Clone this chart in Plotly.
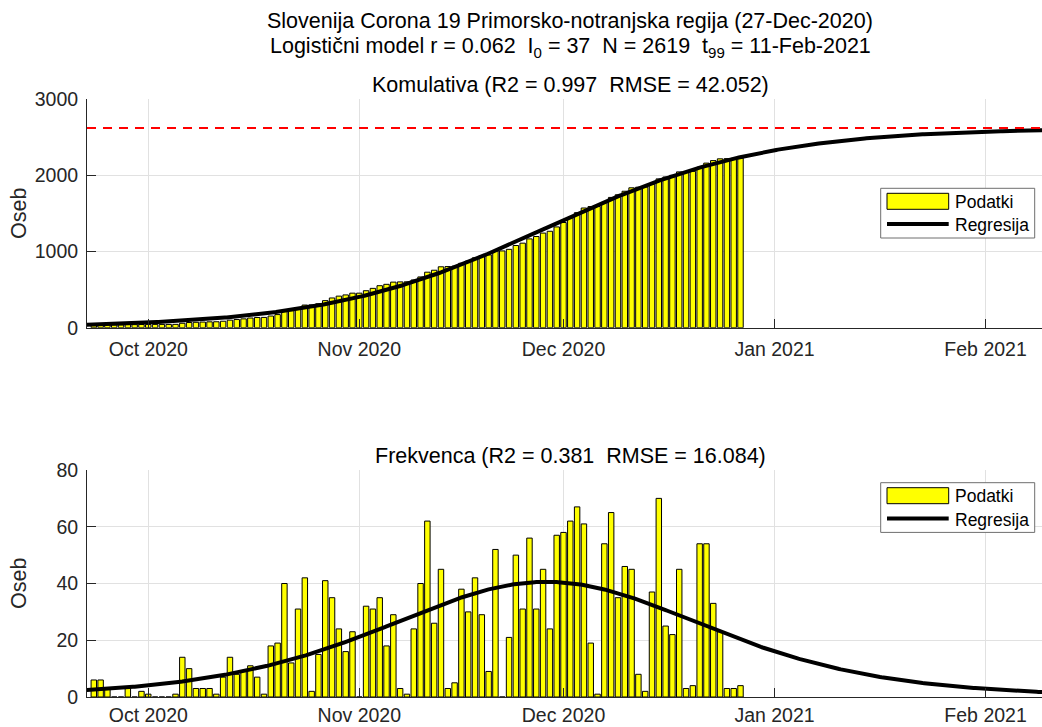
import numpy as np
import pandas as pd
import plotly.graph_objects as go

# ---------------- data ----------------
first_day = "2020-09-23"
daily_cases = [
    6, 6, 3, 0, 0, 3, 0, 2,                                   # 23-30 Sep
    1, 0, 0, 0, 1, 14, 10, 3, 3, 3, 1, 7, 14, 8, 9, 11, 7, 1,
    18, 19, 40, 12, 31, 42, 2, 15, 41, 35, 24, 16, 23,         # Oct
    0, 32, 31, 35, 18, 29, 3, 1, 24, 40, 62, 26, 45, 3, 5, 38,
    30, 42, 29, 9, 52, 0, 21, 50, 31, 56, 31, 45, 24, 57,      # Nov
    58, 62, 67, 61, 19, 1, 54, 65, 35, 46, 45, 8, 2, 37, 70,
    25, 22, 45, 3, 4, 54, 54, 33, 23, 3, 3, 4,                 # 1-27 Dec
]
cumulative_start = 22          # cases before the first plotted day

# logistic model parameters (from the chart title)
r_rate = 0.062
I0 = 37
N_total = 2619
model_t0 = "2020-09-21"
model_end = "2021-02-11"

x_range = ["2020-09-22", "2021-02-09 07:00"]
top_yticks = [0, 1000, 2000, 3000]
bot_yticks = [0, 20, 40, 60, 80]

title1 = "Slovenija Corona 19 Primorsko-notranjska regija (27-Dec-2020)"
title2 = ("Logistični model r = 0.062\u00a0 I<sub>0</sub> = 37\u00a0 N = 2619\u00a0 "
          "t<sub>99</sub> = 11-Feb-2021")
title_top = "Komulativa (R2 = 0.997\u00a0 RMSE = 42.052)"
title_bot = "Frekvenca (R2 = 0.381\u00a0 RMSE = 16.084)"
legend_labels = ["Podatki", "Regresija"]
ylabel = "Oseb"

# ---------------- derived ----------------
dates = pd.date_range(first_day, periods=len(daily_cases), freq="D")
cumulative = cumulative_start + np.cumsum(daily_cases)

t0 = pd.Timestamp(model_t0)
n_days = (pd.Timestamp(model_end) - t0).days
t = np.linspace(0, n_days, n_days * 4 + 1)
t_dates = t0 + pd.to_timedelta(t, unit="D")
C = N_total / (1 + (N_total / I0 - 1) * np.exp(-r_rate * t))
dC = r_rate * C * (1 - C / N_total)

# ---------------- figure ----------------
FONT = "Liberation Sans, Arial, Helvetica, sans-serif"
AX = "#262626"
GRID = "#e1e1e1"
W, H = 1042, 727
L, R, T, B = 87, 0, 99, 30


def px(x):
    return (x - L) / (W - L - R)


def py(y):
    return (H - B - y) / (H - T - B)


bar_w = 0.8 * 86400000
fig = go.Figure()
fig.add_trace(go.Bar(x=dates, y=cumulative, width=bar_w, xaxis="x", yaxis="y",
                     marker=dict(color="#ffff00", line=dict(color="#000000", width=1))))
fig.add_trace(go.Scatter(x=t_dates, y=C, mode="lines", xaxis="x", yaxis="y",
                         line=dict(color="#000000", width=4)))
fig.add_trace(go.Scatter(x=x_range, y=[N_total, N_total], mode="lines", xaxis="x", yaxis="y",
                         line=dict(color="#ff0000", width=2, dash="9px,7px")))
fig.add_trace(go.Bar(x=dates, y=daily_cases, width=bar_w, xaxis="x2", yaxis="y2",
                     marker=dict(color="#ffff00", line=dict(color="#000000", width=1))))
fig.add_trace(go.Scatter(x=t_dates, y=dC, mode="lines", xaxis="x2", yaxis="y2",
                         line=dict(color="#000000", width=4)))

top_dom = [py(327.7), 1]
bot_dom = [0, py(470)]

xcommon = dict(type="date", range=x_range, tickformat="%b %Y", dtick="M1",
               tick0="2020-10-01", ticks="inside", ticklen=9, tickcolor=AX,
               showline=True, linecolor=AX, linewidth=1, showgrid=True,
               gridcolor=GRID, gridwidth=1, zeroline=False, mirror=False,
               tickfont=dict(family=FONT, size=19.5, color=AX), domain=[0, 1])
ycommon = dict(ticks="inside", ticklen=9, tickcolor=AX, showline=True,
               linecolor=AX, linewidth=1, showgrid=True, gridcolor=GRID,
               gridwidth=1, zeroline=False, mirror=False, ticklabelstandoff=4,
               tickfont=dict(family=FONT, size=19.5, color=AX))

fig.update_layout(
    width=W, height=H, showlegend=False, barmode="overlay",
    plot_bgcolor="white", paper_bgcolor="white",
    margin=dict(l=L, r=R, t=T, b=B, autoexpand=False),
    xaxis=dict(anchor="y", ticklabelstandoff=4, **xcommon),
    xaxis2=dict(anchor="y2", ticklabelstandoff=1, **xcommon),
    yaxis=dict(domain=top_dom, range=[0, 3000], tickvals=top_yticks, anchor="x", **ycommon),
    yaxis2=dict(domain=bot_dom, range=[0, 80], tickvals=bot_yticks, anchor="x2", **ycommon),
)

ann = []


def text(x, y, s, size, color="#000000", xanchor="center", angle=0):
    ann.append(dict(x=x, y=y, xref="paper", yref="paper", text=s, showarrow=False,
                    xanchor=xanchor, yanchor="middle", textangle=angle,
                    font=dict(family=FONT, size=size, color=color)))


cx = px(570)
text(cx, py(21), title1, 21.5)
text(cx, py(47), title2, 21.5)
text(cx, py(85), title_top, 21.5)
text(cx, py(456), title_bot, 21.5)
text(px(18.5), py(213.5), ylabel, 21.5, AX, angle=-90)
text(px(18.5), py(583.5), ylabel, 21.5, AX, angle=-90)

shapes = []


def legend(top):
    # top = pixel y of the legend box top edge
    x0, x1 = 880.7, 1034.7
    shapes.append(dict(type="rect", xref="paper", yref="paper", x0=px(x0), x1=px(x1),
                       y0=py(top), y1=py(top + 49.7), fillcolor="white",
                       line=dict(color="#6e6e6e", width=1), layer="above"))
    shapes.append(dict(type="rect", xref="paper", yref="paper", x0=px(887), x1=px(948.7),
                       y0=py(top + 5), y1=py(top + 21), fillcolor="#ffff00",
                       line=dict(color="#000000", width=1), layer="above"))
    shapes.append(dict(type="line", xref="paper", yref="paper", x0=px(887), x1=px(948.7),
                       y0=py(top + 35.8), y1=py(top + 35.8),
                       line=dict(color="#000000", width=4), layer="above"))
    text(px(952.5), py(top + 13.5), legend_labels[0], 17.5, xanchor="left")
    text(px(952.5), py(top + 37), legend_labels[1], 17.5, xanchor="left")


legend(188.3)
legend(482.7)

fig.update_layout(annotations=ann, shapes=shapes)
fig.write_html("out.html", config={"displayModeBar": False},
               post_script="document.body.style.margin='0px';")
